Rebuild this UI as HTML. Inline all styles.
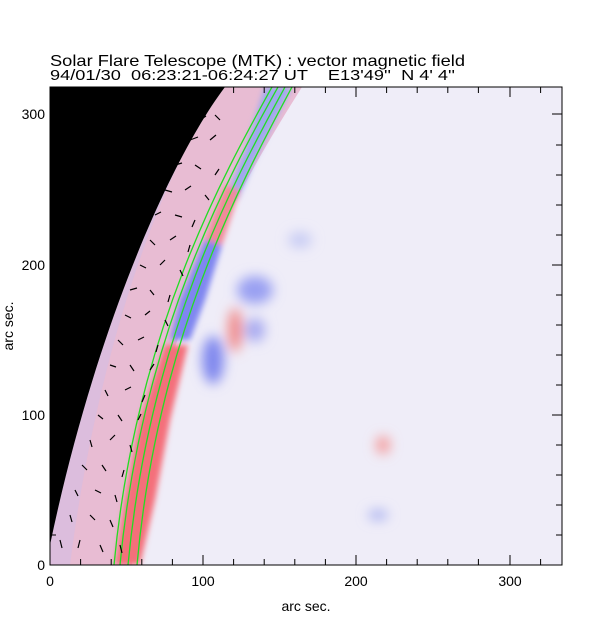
<!DOCTYPE html>
<html><head><meta charset="utf-8"><style>
body{margin:0;background:#fff}
svg text{font-family:"Liberation Sans",sans-serif;fill:#000}
</style></head><body>
<svg width="612" height="617" viewBox="0 0 612 617" xmlns="http://www.w3.org/2000/svg">
<defs>
<clipPath id="pc"><rect x="50" y="87" width="512" height="478"/></clipPath>
<filter id="bl"><feGaussianBlur stdDeviation="6"/></filter>
<filter id="bl2"><feGaussianBlur stdDeviation="3"/></filter>
</defs>
<text x="50" y="66" font-size="16" textLength="415" lengthAdjust="spacingAndGlyphs">Solar Flare Telescope (MTK) : vector magnetic field</text>
<text x="50" y="80" font-size="14.5" xml:space="preserve" textLength="405" lengthAdjust="spacingAndGlyphs">94/01/30  06:23:21-06:24:27 UT    E13'49''  N 4' 4''</text>
<g clip-path="url(#pc)">
<rect x="50" y="87" width="512" height="478" fill="#efedf8"/>
<!-- limb band -->
<path d="M225,87 C170,160 95,330 50,545 L50,565 L132,565 C150,330 250,170 302,87 Z" fill="#e8bcd3"/>
<path d="M205,87 C150,160 80,330 45,565 L70,565 C100,330 170,160 222,87Z" fill="#d0bde8" opacity="0.5"/>
<g filter="url(#bl2)">
<path d="M265,87 L292,87 L255,160 L238,200 L225,200 L245,150Z" fill="#9fa8ee"/>
<path d="M225,185 L240,190 L222,245 L205,240Z" fill="#f08a9a"/>
<path d="M205,240 L222,245 L205,300 L190,340 L170,340 L180,300Z" fill="#7f86f0"/>
<path d="M165,345 L188,345 L170,420 L155,500 L140,565 L115,565 L125,500 L140,420Z" fill="#f4707a"/>
</g>
<g filter="url(#bl)">
<ellipse cx="255" cy="290" rx="18" ry="14" fill="#9aa0f2"/>
<ellipse cx="255" cy="330" rx="10" ry="12" fill="#a8aaf0"/>
<ellipse cx="235" cy="330" rx="7" ry="22" fill="#f08888"/>
<ellipse cx="213" cy="360" rx="11" ry="24" fill="#8088ee"/>
<ellipse cx="383" cy="445" rx="7" ry="9" fill="#f49a9a"/>
<ellipse cx="378" cy="515" rx="10" ry="5" fill="#a8b0f0"/>
<ellipse cx="300" cy="240" rx="12" ry="8" fill="#c8ccf4"/>
</g>
<!-- black limb -->
<path d="M50,87 L225,87 C170,160 95,330 50,545 Z" fill="#000"/>
<g stroke="#22dd22" stroke-width="1.3" fill="none">
<path d="M285,87 C240,170 150,330 128,565"/>
<path d="M278,87 C232,170 142,330 120,565"/>
<path d="M292,87 C248,170 158,330 137,565"/>
<path d="M272,87 C226,170 136,330 114,565"/>
</g>
<g stroke="#000" stroke-width="1.2">
<path d="M200,120l6,-4M215,115l5,5M190,140l8,-3M210,140l6,-5M175,165l7,-2M195,165l6,4M215,175l4,-6M165,190l7,2M185,190l6,-4M205,195l4,5M155,215l6,-3M175,215l7,2M195,220l-3,7M150,240l5,5M170,240l6,-4M190,245l-2,7M140,265l6,3M160,265l5,-5M180,270l3,6M130,290l7,-2M150,290l4,5M170,295l-2,7M125,315l6,3M145,315l5,-4M165,320l3,6M118,340l5,5M138,340l6,-3M158,345l-2,7M110,365l6,2M130,365l4,6M150,370l4,-6M105,390l3,6M125,390l6,-3M145,395l-3,7M98,415l5,4M118,415l4,6M138,420l3,-6M90,440l2,7M110,440l5,-5M130,445l2,7M82,465l5,5M102,465l4,6M124,470l-2,7M75,490l3,6M95,490l6,3M115,495l2,7M70,515l2,7M90,515l5,5M110,520l3,7M60,540l2,8M80,540l-2,8M100,545l3,7M120,545l2,8"/>
</g>
</g>
<rect x="50" y="87" width="512" height="478" fill="none" stroke="#000" stroke-width="1"/>
<g stroke="#000" stroke-width="1">
<path d="M50,565v-10M203,565v-10M356,565v-10M510,565v-10M50,87v10M203,87v10M356,87v10M510,87v10
M80.6,565v-6M111.2,565v-6M141.8,565v-6M172.4,565v-6M233.6,565v-6M264.2,565v-6M294.8,565v-6M325.4,565v-6M386.6,565v-6M417.2,565v-6M447.8,565v-6M478.4,565v-6M540.6,565v-6
M80.6,87v6M111.2,87v6M141.8,87v6M172.4,87v6M233.6,87v6M264.2,87v6M294.8,87v6M325.4,87v6M386.6,87v6M417.2,87v6M447.8,87v6M478.4,87v6M540.6,87v6
M50,565h10M50,415h10M50,265h10M50,114h10M562,565h-10M562,415h-10M562,265h-10M562,114h-10
M50,535h6M50,505h6M50,475h6M50,445h6M50,385h6M50,355h6M50,325h6M50,295h6M50,235h6M50,205h6M50,175h6M50,145h6
M562,535h-6M562,505h-6M562,475h-6M562,445h-6M562,385h-6M562,355h-6M562,325h-6M562,295h-6M562,235h-6M562,205h-6M562,175h-6M562,145h-6"/>
</g>
<g font-size="14">
<text x="50" y="586" text-anchor="middle">0</text>
<text x="203" y="586" text-anchor="middle">100</text>
<text x="356" y="586" text-anchor="middle">200</text>
<text x="510" y="586" text-anchor="middle">300</text>
<text x="45" y="570" text-anchor="end">0</text>
<text x="45" y="420" text-anchor="end">100</text>
<text x="45" y="270" text-anchor="end">200</text>
<text x="45" y="119" text-anchor="end">300</text>
<text x="306" y="611" text-anchor="middle">arc sec.</text>
<text transform="translate(13,326) rotate(-90)" text-anchor="middle">arc sec.</text>
</g>
</svg>
</body></html>
